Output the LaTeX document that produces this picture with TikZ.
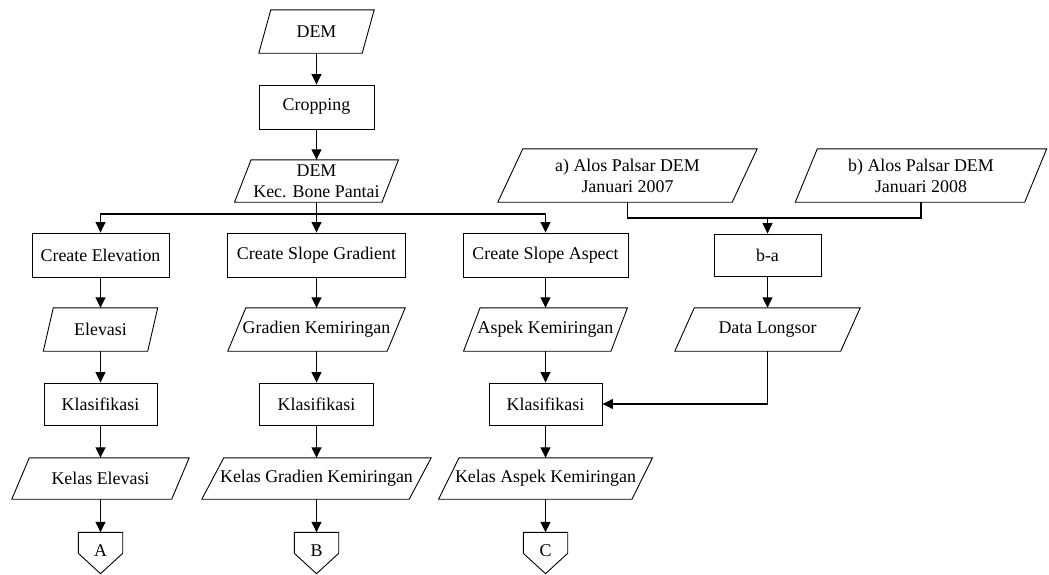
\documentclass[tikz,border=0pt]{standalone}
\usepackage{fontspec}
\setmainfont{Liberation Serif}[Ligatures=NoCommon]
\usetikzlibrary{arrows.meta}
\begin{document}
\begin{tikzpicture}[x=1pt,y=-1pt,
  every node/.style={font=\fontsize{17.9}{21}\selectfont, inner sep=0pt, align=center},
  wire/.style={line width=1.2pt},
  outline/.style={line width=0.9pt},
  arr/.style={wire, -{Triangle[length=10.5pt,width=10pt]}},
  box/.style={draw, rectangle, outline, minimum width=#1, minimum height=43pt},
  io/.style={rectangle, minimum width=#1, minimum height=43pt},
  conn/.style={rectangle, minimum width=44pt, minimum height=41pt, text height=12.5pt, text depth=6pt}]
\useasboundingbox (0,0) rectangle (1049,574);

% main column
\node[io=103pt] (dem) at (316.5,31.5) {DEM};
\node[box=115pt, minimum height=44pt] (crop) at (316.5,107) {Cropping};
\node[io=147pt, minimum height=42pt] (demkec) at (316.5,181) {DEM\\Kec. Bone Pantai};

% three processing branches
\node[box=137pt, minimum height=44pt] (ce) at (100.5,255) {Create Elevation};
\node[box=178pt, minimum height=44pt] (csg) at (316.5,255) {Create Slope Gradient};
\node[box=165pt, minimum height=44pt] (csa) at (545.5,255) {Create Slope Aspect};

\node[io=104pt] (elev) at (100.5,329.5) {Elevasi};
\node[io=159pt] (grad) at (316.5,329.5) {Gradien Kemiringan};
\node[io=147pt] (asp) at (545.5,329.5) {Aspek Kemiringan};

\node[box=113pt, minimum height=42pt] (k1) at (100.5,404) {Klasifikasi};
\node[box=114pt, minimum height=42pt] (k2) at (316.5,404) {Klasifikasi};
\node[box=113pt, minimum height=42pt] (k3) at (545.5,404) {Klasifikasi};

\node[io=159.5pt, minimum height=41pt] (ke) at (100.5,478.5) {Kelas Elevasi};
\node[io=207pt, minimum height=41pt] (kg) at (316.5,478.5) {Kelas Gradien Kemiringan};
\node[io=193pt, minimum height=41pt] (ka) at (545.5,478.5) {Kelas Aspek Kemiringan};

\node[conn] (pA) at (100.5,553) {A};
\node[conn] (pB) at (316.5,553) {B};
\node[conn] (pC) at (545.5,553) {C};

% landslide data branch
\node[io=234pt, minimum height=53pt] (alosa) at (627.5,175.5) {a) Alos Palsar DEM\\Januari 2007};
\node[io=229pt, minimum height=53pt] (alosb) at (921,175.5) {b) Alos Palsar DEM\\Januari 2008};
\node[box=107pt, minimum height=42pt] (ba) at (767.5,255) {b-a};
\node[io=165.5pt] (dl) at (767.5,329.5) {Data Longsor};

% parallelogram outlines for data nodes
\foreach \n/\s in {dem/12, demkec/16.5, elev/10, grad/18, asp/16.5, ke/17.5, kg/22, ka/20.5, alosa/25, alosb/22, dl/19.5}
  \draw[outline] ([xshift=-\s*0.5pt]\n.south west) -- ([xshift=\s*0.5pt]\n.north west)
    -- ([xshift=\s*0.5pt]\n.north east) -- ([xshift=-\s*0.5pt]\n.south east) -- cycle;

% off-page connectors
\foreach \n in {pA,pB,pC}
  \draw[outline] (\n.north west) -- (\n.north east) -- ([yshift=-21pt]\n.north east)
    -- (\n.south) -- ([yshift=-21pt]\n.north west) -- cycle;

% connectors
\coordinate (split) at (316.5,214);
\coordinate (join) at (767.5,218);

\draw[arr] (dem) -- (crop);
\draw[arr] (crop) -- (demkec);
\draw[arr] (demkec) -- (csg);
\draw[arr] (split) -| (ce.north);
\draw[arr] (split) -| (csa.north);

\draw[arr] (ce) -- (elev);
\draw[arr] (elev) -- (k1);
\draw[arr] (k1) -- (ke);
\draw[arr] (ke) -- (pA);

\draw[arr] (csg) -- (grad);
\draw[arr] (grad) -- (k2);
\draw[arr] (k2) -- (kg);
\draw[arr] (kg) -- (pB);

\draw[arr] (csa) -- (asp);
\draw[arr] (asp) -- (k3);
\draw[arr] (k3) -- (ka);
\draw[arr] (ka) -- (pC);

\draw[wire] (alosa.south) |- (join) -| (alosb.south);
\draw[arr] (join) -- (ba);
\draw[arr] (ba) -- (dl);
\draw[arr] (dl.south) |- (k3.east);
\end{tikzpicture}
\end{document}
